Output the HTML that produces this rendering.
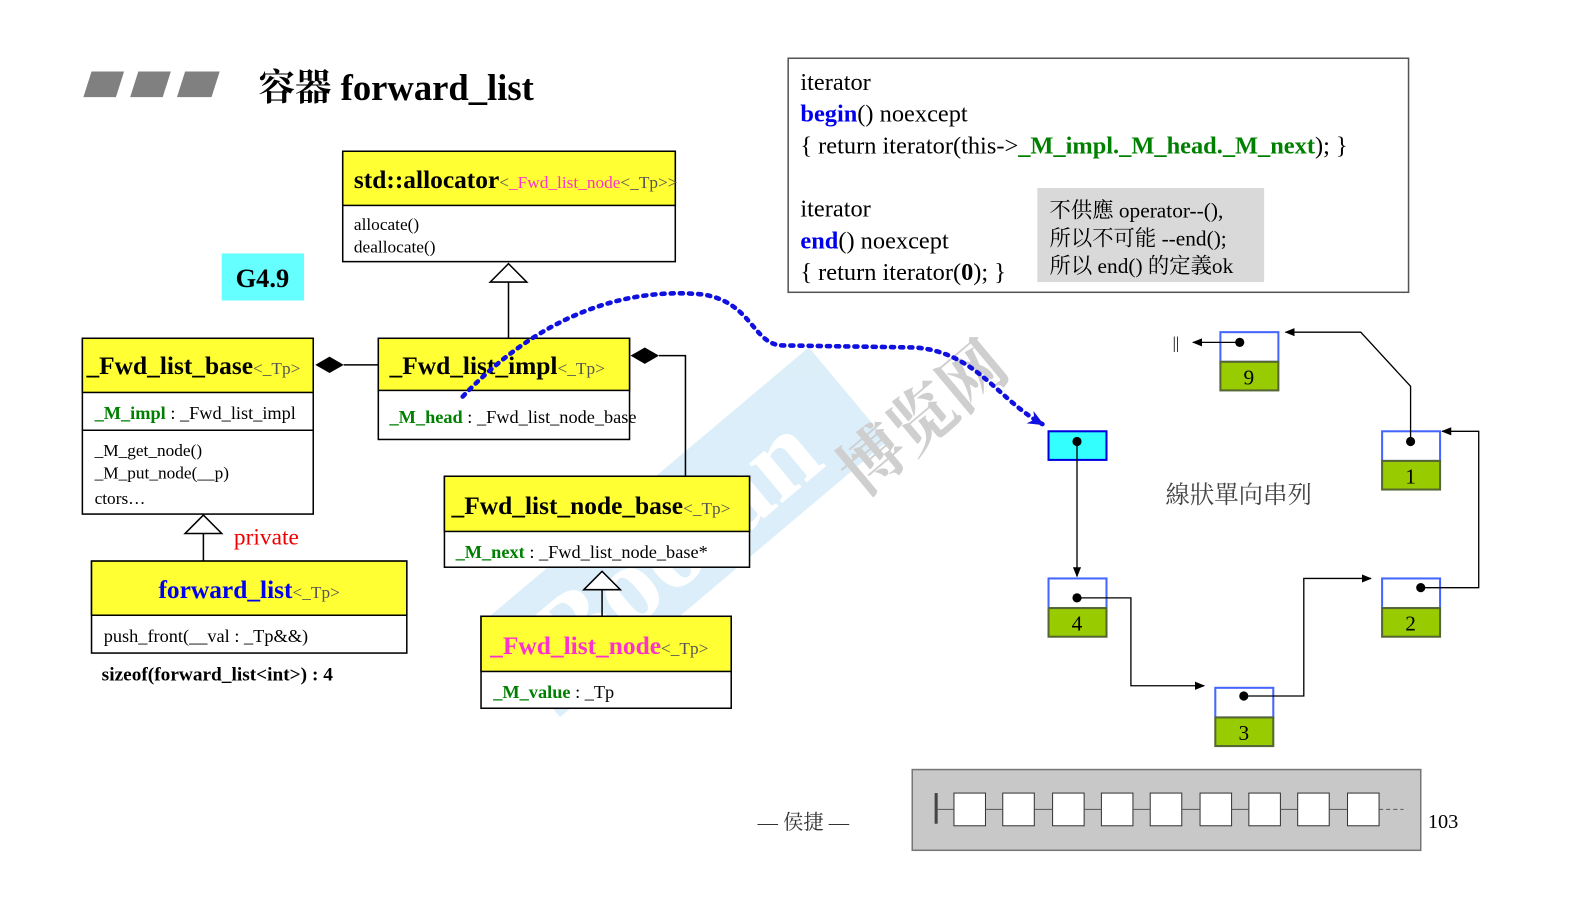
<!DOCTYPE html>
<html><head><meta charset="utf-8"><style>
html,body{margin:0;padding:0;background:#fff;}
svg{display:block;}
text{font-family:"Liberation Serif","Noto Serif CJK SC",serif;}
.b{font-weight:bold;}
</style></head><body>
<svg width="1595" height="924" viewBox="0 0 1595 924" xmlns="http://www.w3.org/2000/svg">
<defs>
<marker id="ah" markerWidth="10" markerHeight="8" refX="9" refY="4" orient="auto" markerUnits="userSpaceOnUse"><path d="M0,0 L10,4 L0,8 z" fill="#000"/></marker>
<marker id="bh" markerWidth="16" markerHeight="14" refX="14" refY="7" orient="auto" markerUnits="userSpaceOnUse"><path d="M0,0 L16,7 L0,14 L5,7 z" fill="#1010e0"/></marker>
</defs>
<g transform="scale(1.017 1.022)">
<g transform="rotate(-40 650 540)" opacity="0.35">
<rect x="470" y="480" width="420" height="120" fill="#9ad0ee"/>
<text x="500" y="580" font-size="110" fill="#fff" class="b" font-family="Liberation Sans">Boolan</text>
</g>
<text x="780" y="440" font-size="64" fill="#cfcfcf" transform="rotate(-40 880 370)" font-family="Noto Sans CJK SC,sans-serif" class="b">博览网</text>

<polygon points="90,70 122,70 114,95 82,95" fill="#808080"/>
<polygon points="136,70 168,70 160,95 128,95" fill="#808080"/>
<polygon points="182,70 216,70 208,95 174,95" fill="#808080"/>
<text x="254" y="98" font-size="36" class="b">容器 forward_list</text>

<rect x="775" y="57" width="610" height="229" fill="#fff" stroke="#555" stroke-width="1.5"/>
<text x="787" y="88" font-size="24">iterator</text>
<text x="787" y="119" font-size="24"><tspan fill="#0000ee" class="b">begin</tspan>() noexcept</text>
<text x="787" y="150" font-size="24">{ return iterator(this-&gt;<tspan fill="#008000" class="b">_M_impl._M_head._M_next</tspan>); }</text>
<text x="787" y="212" font-size="24">iterator</text>
<text x="787" y="243" font-size="24"><tspan fill="#0000ee" class="b">end</tspan>() noexcept</text>
<text x="787" y="274" font-size="24">{ return iterator(<tspan class="b">0</tspan>); }</text>
<rect x="1020" y="184" width="223" height="92" fill="#d9d9d9"/>
<text x="1032" y="213" font-size="21">不供應 operator--(),</text>
<text x="1032" y="240" font-size="21">所以不可能 --end();</text>
<text x="1032" y="267" font-size="21">所以 end() 的定義ok</text>

<rect x="218" y="248" width="81" height="46" fill="#66ffff"/>
<text x="258" y="281" font-size="26" class="b" text-anchor="middle">G4.9</text>

<rect x="337" y="148" width="327" height="108" fill="#fff" stroke="#000" stroke-width="1.5"/>
<rect x="337" y="148" width="327" height="53" fill="#ffff33" stroke="#000" stroke-width="1.5"/>
<text x="348" y="184" font-size="25" class="b">std::allocator<tspan font-size="17" font-weight="normal" fill="#555">&lt;</tspan><tspan font-size="17" font-weight="normal" fill="#ff33cc">_Fwd_list_node</tspan><tspan font-size="17" font-weight="normal" fill="#555">&lt;_Tp&gt;&gt;</tspan></text>
<text x="348" y="225" font-size="17">allocate()</text>
<text x="348" y="247" font-size="17">deallocate()</text>

<rect x="81" y="331" width="227" height="172" fill="#fff" stroke="#000" stroke-width="1.5"/>
<rect x="81" y="331" width="227" height="53" fill="#ffff33" stroke="#000" stroke-width="1.5"/>
<line x1="81" y1="421" x2="308" y2="421" stroke="#000" stroke-width="1.5"/>
<text x="85" y="366" font-size="25" class="b">_Fwd_list_base<tspan font-size="17" font-weight="normal" fill="#555">&lt;_Tp&gt;</tspan></text>
<text x="93" y="410" font-size="18"><tspan fill="#008000" class="b">_M_impl</tspan> : _Fwd_list_impl</text>
<text x="93" y="446" font-size="17">_M_get_node()</text>
<text x="93" y="468" font-size="17">_M_put_node(__p)</text>
<text x="93" y="493" font-size="17">ctors…</text>

<rect x="372" y="331" width="247" height="99" fill="#fff" stroke="#000" stroke-width="1.5"/>
<rect x="372" y="331" width="247" height="51" fill="#ffff33" stroke="#000" stroke-width="1.5"/>
<text x="383" y="366" font-size="25" class="b">_Fwd_list_impl<tspan font-size="17" font-weight="normal" fill="#555">&lt;_Tp&gt;</tspan></text>
<text x="383" y="414" font-size="18"><tspan fill="#008000" class="b">_M_head</tspan> : _Fwd_list_node_base</text>

<rect x="437" y="466" width="300" height="89" fill="#fff" stroke="#000" stroke-width="1.5"/>
<rect x="437" y="466" width="300" height="54" fill="#ffff33" stroke="#000" stroke-width="1.5"/>
<text x="444" y="503" font-size="25" class="b">_Fwd_list_node_base<tspan font-size="17" font-weight="normal" fill="#555">&lt;_Tp&gt;</tspan></text>
<text x="448" y="546" font-size="18"><tspan fill="#008000" class="b">_M_next</tspan> : _Fwd_list_node_base*</text>

<rect x="473" y="603" width="246" height="90" fill="#fff" stroke="#000" stroke-width="1.5"/>
<rect x="473" y="603" width="246" height="54" fill="#ffff33" stroke="#000" stroke-width="1.5"/>
<text x="482" y="640" font-size="25" class="b" fill="#ff33cc">_Fwd_list_node<tspan font-size="17" font-weight="normal" fill="#555">&lt;_Tp&gt;</tspan></text>
<text x="485" y="683" font-size="18"><tspan fill="#008000" class="b">_M_value</tspan> : _Tp</text>

<rect x="90" y="549" width="310" height="90" fill="#fff" stroke="#000" stroke-width="1.5"/>
<rect x="90" y="549" width="310" height="53" fill="#ffff33" stroke="#000" stroke-width="1.5"/>
<text x="245" y="585" font-size="25" class="b" text-anchor="middle"><tspan fill="#0000ee">forward_list</tspan><tspan font-size="17" font-weight="normal" fill="#555">&lt;_Tp&gt;</tspan></text>
<text x="102" y="628" font-size="18">push_front(__val : _Tp&amp;&amp;)</text>
<text x="100" y="666" font-size="19" class="b">sizeof(forward_list&lt;int&gt;) : 4</text>
<text x="230" y="533" font-size="23" fill="#ee0000">private</text>

<line x1="500" y1="331" x2="500" y2="276" stroke="#000" stroke-width="1.5"/>
<polygon points="500,258 482,276 518,276" fill="#fff" stroke="#000" stroke-width="1.5"/>
<line x1="200" y1="549" x2="200" y2="522" stroke="#000" stroke-width="1.5"/>
<polygon points="200,504 182,522 218,522" fill="#fff" stroke="#000" stroke-width="1.5"/>
<line x1="592" y1="603" x2="592" y2="577" stroke="#000" stroke-width="1.5"/>
<polygon points="592,559 574,577 610,577" fill="#fff" stroke="#000" stroke-width="1.5"/>
<line x1="338" y1="357" x2="372" y2="357" stroke="#000" stroke-width="1.5"/>
<polygon points="310,357 324,349 338,357 324,365" fill="#000"/>
<polyline points="648,348 674,348 674,466" fill="none" stroke="#000" stroke-width="1.5"/>
<polygon points="620,348 634,340 648,348 634,356" fill="#000"/>

<path d="M455,388 C520,320 600,280 690,288 C740,295 740,338 770,338 L900,340 C960,345 980,390 1025,415" fill="none" stroke="#1010e0" stroke-width="4.5" stroke-dasharray="3,6" stroke-linecap="round" marker-end="url(#bh)"/>

<rect x="1031" y="422" width="57" height="28" fill="#33ffff" stroke="#0000dd" stroke-width="2"/>
<circle cx="1059" cy="432" r="4.5" fill="#000"/>
<line x1="1059" y1="432" x2="1059" y2="564" stroke="#000" stroke-width="1.3" marker-end="url(#ah)"/>
<g stroke-width="2">
<rect x="1031" y="566" width="57" height="29" fill="#fff" stroke="#4466ff"/>
<rect x="1031" y="595" width="57" height="28" fill="#99cc00" stroke="#556633"/>
<rect x="1195" y="673" width="57" height="29" fill="#fff" stroke="#4466ff"/>
<rect x="1195" y="702" width="57" height="28" fill="#99cc00" stroke="#556633"/>
<rect x="1359" y="566" width="57" height="29" fill="#fff" stroke="#4466ff"/>
<rect x="1359" y="595" width="57" height="28" fill="#99cc00" stroke="#556633"/>
<rect x="1359" y="422" width="57" height="29" fill="#fff" stroke="#4466ff"/>
<rect x="1359" y="451" width="57" height="28" fill="#99cc00" stroke="#556633"/>
<rect x="1200" y="325" width="57" height="29" fill="#fff" stroke="#4466ff"/>
<rect x="1200" y="354" width="57" height="28" fill="#99cc00" stroke="#556633"/>
</g>
<g font-size="21" text-anchor="middle">
<text x="1059" y="617">4</text><text x="1223" y="724">3</text><text x="1387" y="617">2</text><text x="1387" y="473">1</text><text x="1228" y="376">9</text>
</g>
<g fill="#000">
<circle cx="1059" cy="585" r="4.5"/><circle cx="1223" cy="681" r="4.5"/><circle cx="1397" cy="575" r="4.5"/><circle cx="1387" cy="432" r="4.5"/><circle cx="1219" cy="335" r="4.5"/>
</g>
<g fill="none" stroke="#000" stroke-width="1.3">
<polyline points="1059,585 1112,585 1112,671 1184,671" marker-end="url(#ah)"/>
<polyline points="1223,681 1282,681 1282,566 1348,566" marker-end="url(#ah)"/>
<polyline points="1397,575 1454,575 1454,422 1418,422" marker-end="url(#ah)"/>
<polyline points="1387,432 1387,378 1338,325 1264,325" marker-end="url(#ah)"/>
<polyline points="1219,335 1173,335" marker-end="url(#ah)"/>
</g>
<text x="1153" y="341" font-size="16">||</text>
<text x="1146" y="492" font-size="24" fill="#444" font-family="Noto Sans CJK TC,sans-serif">線狀單向串列</text>

<text x="745" y="811" font-size="20" fill="#333">— 侯捷 —</text>
<rect x="897" y="753" width="500" height="79" fill="#c8c8c8" stroke="#777" stroke-width="1.5"/>
<rect x="919" y="776" width="3" height="30" fill="#444"/>
<g fill="#fff" stroke="#333" stroke-width="1">
<rect x="938" y="776" width="31" height="32"/><rect x="986" y="776" width="31" height="32"/><rect x="1035" y="776" width="31" height="32"/><rect x="1083" y="776" width="31" height="32"/><rect x="1131" y="776" width="31" height="32"/><rect x="1180" y="776" width="31" height="32"/><rect x="1228" y="776" width="31" height="32"/><rect x="1276" y="776" width="31" height="32"/><rect x="1325" y="776" width="31" height="32"/>
</g>
<g stroke="#555" stroke-width="1">
<line x1="922" y1="792" x2="938" y2="792"/><line x1="969" y1="792" x2="986" y2="792"/><line x1="1017" y1="792" x2="1035" y2="792"/><line x1="1066" y1="792" x2="1083" y2="792"/><line x1="1114" y1="792" x2="1131" y2="792"/><line x1="1162" y1="792" x2="1180" y2="792"/><line x1="1211" y1="792" x2="1228" y2="792"/><line x1="1259" y1="792" x2="1276" y2="792"/><line x1="1307" y1="792" x2="1325" y2="792"/>
<line x1="1356" y1="792" x2="1380" y2="792" stroke-dasharray="4,3"/>
</g>
<text x="1404" y="810" font-size="20" font-family="Liberation Sans,sans-serif">103</text>
</g>
</svg>
</body></html>
